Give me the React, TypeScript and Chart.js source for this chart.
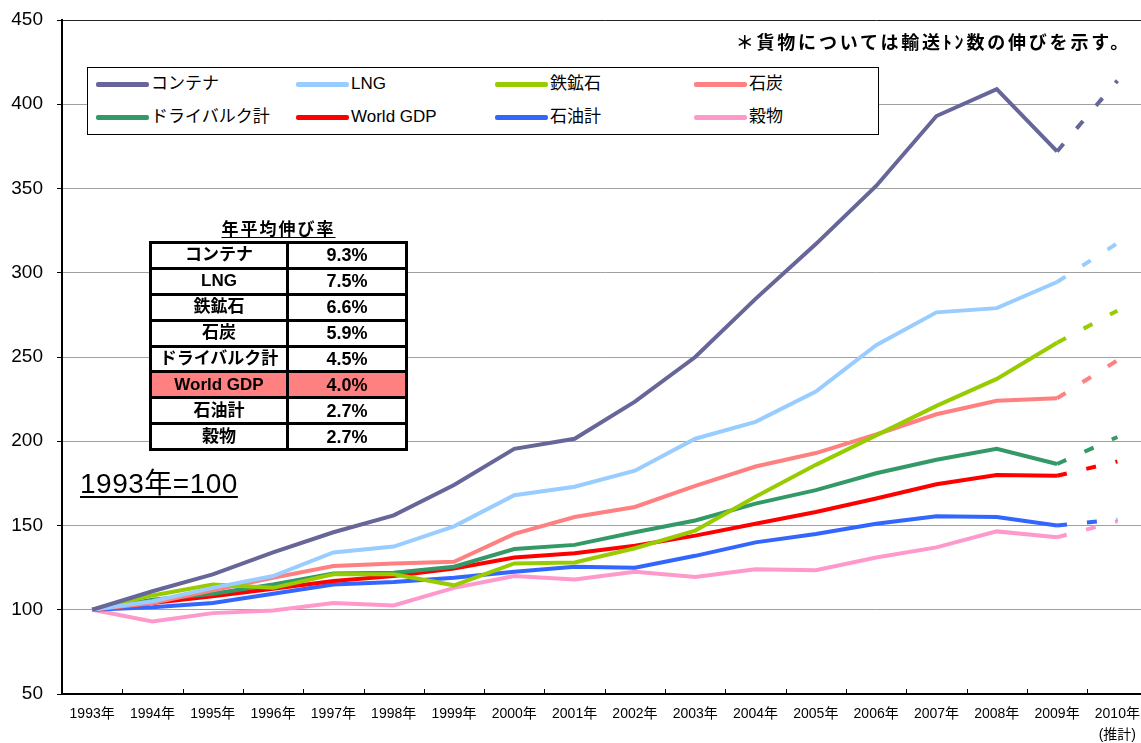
import React, { useEffect, useRef } from "react";
import { Chart, registerables } from "chart.js";

Chart.register(...registerables);

const years: (string | string[])[] = [
  "1993年", "1994年", "1995年", "1996年", "1997年", "1998年", "1999年", "2000年", "2001年",
  "2002年", "2003年", "2004年", "2005年", "2006年", "2007年", "2008年", "2009年", ["2010年", "(推計)"],
];

const container = [100, 111, 121, 134, 146, 156, 174, 195.5, 201.5, 223.5, 250, 284.5, 317, 351.5, 393, 409, 372, 414];
const lng = [100, 105, 113, 120, 134, 137.5, 149.5, 168, 173, 182.5, 201.5, 211.5, 229.5, 257, 276.5, 279, 294.5, 317.5];
const ironOre = [100, 108.5, 115, 113, 121, 121, 114.5, 127.5, 128, 136.5, 147, 167, 186, 203.5, 221, 237, 258.5, 277.5];
const coal = [100, 104, 111.5, 119, 126, 127.5, 128.5, 145, 155, 161, 173.5, 185, 193, 204, 216, 224, 225.5, 248];
const dryBulk = [100, 106, 109.5, 115, 121.5, 122, 125.5, 136, 138.5, 146, 153, 163, 171, 181, 189, 195.5, 186.5, 202.5];
const worldGdp = [100, 104, 108, 112.5, 117, 120, 124.5, 131, 133.5, 138, 144, 151, 158, 166, 174.5, 180, 179.5, 188];
const oil = [100, 101.5, 104, 109.5, 115, 116.5, 119, 122.5, 125.5, 125, 132, 140, 145, 151, 155.5, 155, 150, 153.5];
const grain = [100, 93, 98, 99.5, 104, 102.5, 113, 120, 118, 122.5, 119.5, 124, 123.5, 131, 137, 146.5, 143, 152.5];

const seriesNames = ["コンテナ", "LNG", "鉄鉱石", "石炭", "ドライバルク計", "World GDP", "石油計", "穀物"];
const seriesColors = ["#666699", "#99CCFF", "#99CC00", "#FF8080", "#339966", "#FF0000", "#3366FF", "#FF99CC"];
const seriesValues = [container, lng, ironOre, coal, dryBulk, worldGdp, oil, grain];

const tableNames = ["コンテナ", "LNG", "鉄鉱石", "石炭", "ドライバルク計", "World GDP", "石油計", "穀物"];
const tableRates = ["9.3%", "7.5%", "6.6%", "5.9%", "4.5%", "4.0%", "2.7%", "2.7%"];

const yTicks = [50, 100, 150, 200, 250, 300, 350, 400, 450];

const JP = '"Liberation Sans", "Noto Sans CJK JP", sans-serif';
const NARROW = '"Liberation Sans Narrow", "Liberation Sans", "Noto Sans CJK JP", sans-serif';

const innerTicks = {
  id: "innerTicks",
  afterDraw(chart: any) {
    const xs = chart.scales.x;
    const ctx = chart.ctx;
    const bottom = chart.chartArea.bottom;
    ctx.save();
    ctx.strokeStyle = "#000";
    ctx.lineWidth = 1;
    for (let i = 1; i < years.length; i++) {
      const px = Math.round((xs.getPixelForValue(i - 1) + xs.getPixelForValue(i)) / 2) + 0.5;
      ctx.beginPath();
      ctx.moveTo(px, bottom);
      ctx.lineTo(px, bottom - 5);
      ctx.stroke();
    }
    ctx.restore();
  },
};

export default function App() {
  const ref = useRef<HTMLCanvasElement | null>(null);

  useEffect(() => {
    if (!ref.current) return;
    const last = years.length - 1;
    const chart = new Chart(ref.current, {
      type: "line",
      data: {
        labels: years,
        datasets: seriesNames.map((name, i) => ({
          label: name,
          data: seriesValues[i],
          borderColor: seriesColors[i],
          backgroundColor: seriesColors[i],
          borderWidth: 4,
          pointRadius: 0,
          pointHoverRadius: 0,
          tension: 0,
          fill: false,
          borderCapStyle: "butt",
          segment: {
            borderDash: (ctx: any) => (ctx.p1DataIndex === last ? [10, 20] : undefined),
          },
        })),
      },
      options: {
        responsive: false,
        animation: false,
        events: [],
        layout: { padding: { top: 20, right: 2, left: 0, bottom: 0 } },
        plugins: { legend: { display: false }, tooltip: { enabled: false } },
        scales: {
          x: {
            offset: true,
            grid: { drawOnChartArea: false, drawTicks: false },
            border: { color: "#000", width: 2 },
            ticks: {
              color: "#000",
              padding: 10,
              maxRotation: 0,
              autoSkip: false,
              font: { family: NARROW, size: 14, lineHeight: 1.5 },
            },
            afterFit: (s: any) => {
              s.height = 49;
            },
          },
          y: {
            min: 50,
            max: 450,
            afterBuildTicks: (s: any) => {
              s.ticks = yTicks.map((v) => ({ value: v }));
            },
            ticks: {
              color: "#000",
              padding: 14,
              font: { family: '"Liberation Sans", Arial, sans-serif', size: 19 },
            },
            grid: {
              color: (c: any) => (c.tick && c.tick.value === 450 ? "#222" : "#a0a0a0"),
              tickColor: "#000",
              tickLength: 5,
              lineWidth: 1,
            },
            border: { color: "#000", width: 2 },
            afterFit: (s: any) => {
              s.width = 62;
              s.paddingTop = 0;
              s.paddingBottom = 0;
            },
          },
        },
      },
      plugins: [innerTicks],
    } as any);
    return () => chart.destroy();
  }, []);

  const legendCols = [8, 208, 407, 606];

  return (
    <div style={{ position: "fixed", left: 0, top: 0, width: 1141, height: 743, overflow: "hidden", background: "#fff" }}>
      <canvas ref={ref} width={1150} height={743} style={{ position: "absolute", left: 0, top: 0 }} />

      <div
        style={{
          position: "absolute", right: 10, top: 31, fontFamily: JP, fontWeight: 700, fontSize: 18,
          letterSpacing: 2.8, lineHeight: "24px", color: "#000", whiteSpace: "nowrap",
        }}
      >
        ＊貨物については輸送ﾄﾝ数の伸びを示す。
      </div>

      <div
        style={{
          position: "absolute", left: 87, top: 67, width: 790, height: 66,
          border: "1px solid #000", background: "#fff",
        }}
      >
        {seriesNames.map((name, i) => (
          <div
            key={name}
            style={{
              position: "absolute", left: legendCols[i % 4], top: i < 4 ? 4 : 37, height: 24,
              display: "flex", alignItems: "center", whiteSpace: "nowrap",
            }}
          >
            <span style={{ display: "block", width: 53, height: 5, background: seriesColors[i], borderRadius: 2 }} />
            <span
              style={{
                display: "block", marginLeft: 2, fontFamily: NARROW, fontSize: 17, lineHeight: "24px",
                height: 24, color: "#000",
              }}
            >
              {name}
            </span>
          </div>
        ))}
      </div>

      <div
        style={{
          position: "absolute", left: 149, top: 219, width: 259, textAlign: "center", fontFamily: JP,
          fontWeight: 700, fontSize: 17, lineHeight: "22px", letterSpacing: 2, color: "#000",
        }}
      >
        <span style={{ textDecoration: "underline", textUnderlineOffset: 2 }}>年平均伸び率</span>
      </div>

      <div
        style={{
          position: "absolute", left: 149, top: 241, width: 259, height: 210, boxSizing: "border-box",
          background: "#000", padding: 3, display: "grid", gridTemplateColumns: "134px 116px",
          gridTemplateRows: "repeat(8, minmax(0, 1fr))", gap: 3, overflow: "hidden",
        }}
      >
        {tableNames.map((n, i) => (
          <React.Fragment key={n}>
            <div
              style={{
                background: i === 5 ? "#FF8080" : "#fff", display: "flex", alignItems: "center",
                justifyContent: "center", fontFamily: JP, fontWeight: 700, fontSize: 17, lineHeight: "18px",
                color: "#000", whiteSpace: "nowrap", overflow: "hidden",
              }}
            >
              {n}
            </div>
            <div
              style={{
                background: i === 5 ? "#FF8080" : "#fff", display: "flex", alignItems: "center",
                justifyContent: "center", fontFamily: JP, fontWeight: 700, fontSize: 18, lineHeight: "18px",
                color: "#000", overflow: "hidden",
              }}
            >
              {tableRates[i]}
            </div>
          </React.Fragment>
        ))}
      </div>

      <div
        style={{
          position: "absolute", left: 80, top: 468, fontFamily: JP, fontSize: 28, letterSpacing: 0.5,
          lineHeight: "32px", color: "#000", whiteSpace: "nowrap",
        }}
      >
        <span style={{ textDecoration: "underline", textUnderlineOffset: 3 }}>1993年=100</span>
      </div>
    </div>
  );
}
